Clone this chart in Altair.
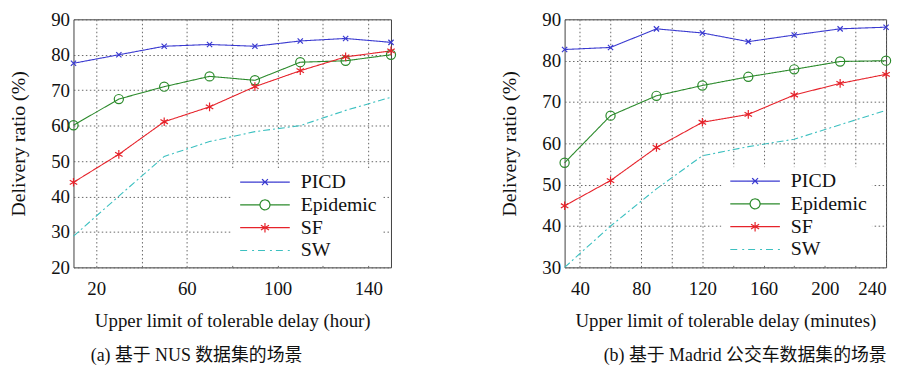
import altair as alt
import pandas as pd

# ---------------- data ----------------
series = ["PICD", "Epidemic", "SF", "SW"]
colors = ["#3a3ad0", "#2b8a2b", "#e6232b", "#3cc0c0"]

x_nus = [10, 30, 50, 70, 90, 110, 130, 150]
picd_nus = [77.6, 80.0, 82.4, 82.9, 82.4, 83.9, 84.6, 83.5]
epi_nus = [60.1, 67.5, 71.0, 73.9, 72.8, 77.9, 78.3, 80.0]
sf_nus = [44.0, 51.9, 61.1, 65.3, 71.0, 75.5, 79.4, 81.1]
sw_nus = [28.8, 40.1, 51.3, 55.5, 58.3, 60.0, 64.3, 68.0]

x_mad = [30, 60, 90, 120, 150, 180, 210, 240]
picd_mad = [82.7, 83.2, 87.7, 86.7, 84.6, 86.2, 87.7, 88.1]
epi_mad = [55.3, 66.7, 71.5, 74.0, 76.1, 77.9, 79.8, 80.0]
sf_mad = [44.9, 51.0, 59.0, 65.1, 67.0, 71.7, 74.5, 76.7]
sw_mad = [30.0, 40.0, 49.0, 57.0, 59.2, 61.0, 64.5, 68.0]

xticks_nus = [20, 40, 60, 80, 100, 120, 140]
xticks_mad = [40, 60, 80, 100, 120, 140, 160, 180, 200, 220, 240]
yticks_nus = [20, 30, 40, 50, 60, 70, 80, 90]
yticks_mad = [30, 40, 50, 60, 70, 80, 90]

ytitle = "Delivery ratio (%)"
xtitle_nus = "Upper limit of tolerable delay (hour)"
xtitle_mad = "Upper limit of tolerable delay (minutes)"
caption_nus = "(a)  基于 NUS 数据集的场景"
caption_mad = "(b)  基于 Madrid 公交车数据集的场景"

# ---------------- styles ----------------
FONT = "Liberation Serif"
CAPFONT = "Liberation Serif, Noto Sans CJK SC, serif"

marker_shape = {
    "PICD": "M-1,-1L1,1M-1,1L1,-1",
    "Epidemic": "circle",
    "SF": "M0,-1L0,1M-0.87,-0.5L0.87,0.5M-0.87,0.5L0.87,-0.5",
}
marker_size = {"PICD": 28, "Epidemic": 85, "SF": 75}

# legend symbols: line with marker (unit = 5 px when size = 100)
legend_paths = [
    "M-1,0L9,0M3.4,-0.6L4.6,0.6M3.4,0.6L4.6,-0.6",
    "M-1,0L3,0M5,0L9,0M5,0A1,1 0 1,1 3,0A1,1 0 1,1 5,0",
    "M-1,0L9,0M4,-0.95L4,0.95M3.18,-0.48L4.82,0.48M3.18,0.48L4.82,-0.48",
    "M-1,0L0.6,0M1.4,0L1.8,0M2.6,0L4.2,0M5,0L5.4,0M6.2,0L7.8,0M8.6,0L9,0",
]
dashes = [[1, 0], [1, 0], [1, 0], [7, 3, 2, 3]]


def long_df(x, cols):
    rows = []
    for name, vals in zip(series, cols):
        for xi, yi in zip(x, vals):
            rows.append({"x": xi, "y": yi, "series": name})
    return pd.DataFrame(rows)


def make_legend(lx, ly):
    return alt.Legend(
        title=None, orient="none", legendX=lx, legendY=ly,
        labelFont=FONT, labelFontSize=20, labelColor="#111",
        labelOffset=46, symbolSize=100, symbolStrokeWidth=1.2,
        rowPadding=3, padding=4, fillColor="white", strokeColor="white",
    )


def panel(df, xdom, xvals, lexpr, ydom, yvals, width, xtitle, caption, cap_dx, lx, ly):
    xenc = alt.X(
        "x:Q",
        scale=alt.Scale(domain=xdom, nice=False, zero=False),
        axis=alt.Axis(values=xvals, labelExpr=lexpr, title=xtitle),
    )
    yenc = alt.Y(
        "y:Q",
        scale=alt.Scale(domain=ydom, nice=False, zero=False),
        axis=alt.Axis(values=yvals, title=ytitle),
    )
    cscale = alt.Scale(domain=series, range=colors)
    lines = alt.Chart(df).mark_line(strokeWidth=1.1).encode(
        x=xenc,
        y=yenc,
        color=alt.Color("series:N", scale=cscale, legend=make_legend(lx, ly)),
        strokeDash=alt.StrokeDash(
            "series:N", scale=alt.Scale(domain=series, range=dashes), legend=None
        ),
    )
    layers = [lines]
    for name, col in zip(series[:3], colors[:3]):
        pts = alt.Chart(df).transform_filter(
            alt.datum.series == name
        ).mark_point(
            shape=marker_shape[name], size=marker_size[name], filled=False,
            stroke=col, strokeWidth=1.2, opacity=1,
        ).encode(x=xenc, y=yenc)
        layers.append(pts)
    leg = alt.Chart(df).transform_filter("false").mark_point(
        filled=False, size=100, strokeWidth=1.2, opacity=1
    ).encode(
        x=xenc,
        y=yenc,
        color=alt.Color("series:N", scale=cscale, legend=make_legend(lx, ly)),
        shape=alt.Shape(
            "series:N",
            scale=alt.Scale(domain=series, range=legend_paths),
            legend=make_legend(lx, ly),
        ),
    )
    layers.append(leg)
    return alt.layer(*layers).properties(
        width=width,
        height=250,
        title=alt.TitleParams(
            caption, orient="bottom", font=CAPFONT, fontSize=18,
            fontWeight="normal", color="#111", offset=16, dx=cap_dx,
        ),
    )


left = panel(
    long_df(x_nus, [picd_nus, epi_nus, sf_nus, sw_nus]),
    [10, 150], xticks_nus, "(datum.value - 20) % 40 == 0 ? datum.label : ''",
    [20, 90], yticks_nus, 320, xtitle_nus, caption_nus, -36, 159, 150,
)
right = panel(
    long_df(x_mad, [picd_mad, epi_mad, sf_mad, sw_mad]),
    [30, 240], xticks_mad, "datum.value % 40 == 0 ? datum.label : ''",
    [30, 90], yticks_mad, 324, xtitle_mad, caption_mad, 20, 158, 149,
)

chart = alt.hconcat(left, right, spacing=101).resolve_scale(
    color="independent", shape="independent", strokeDash="independent",
    x="independent", y="independent",
).resolve_legend(color="independent", shape="independent").properties(
    padding={"left": 0, "top": 0, "right": 0, "bottom": 0},
    background="white",
).configure(
    font=FONT,
    style={"guide-label": {"font": FONT}, "guide-title": {"font": FONT}},
).configure_view(
    stroke="#404040", strokeWidth=1
).configure_axis(
    labelFont=FONT, labelFontSize=19, labelColor="#111",
    titleFont=FONT, titleFontSize=19, titleFontWeight="normal", titleColor="#111",
    grid=True, gridColor="#666", gridDash=[1.5, 2.5], gridWidth=1,
    domain=False, ticks=False,
).configure_axisX(
    labelPadding=12, titlePadding=14,
).configure_axisY(
    labelPadding=4, titlePadding=22, titleFontSize=20,
).configure_legend(
    labelFont=FONT, labelFontSize=20,
)

chart.save("out.html", embed_options={"renderer": "svg", "actions": False})
